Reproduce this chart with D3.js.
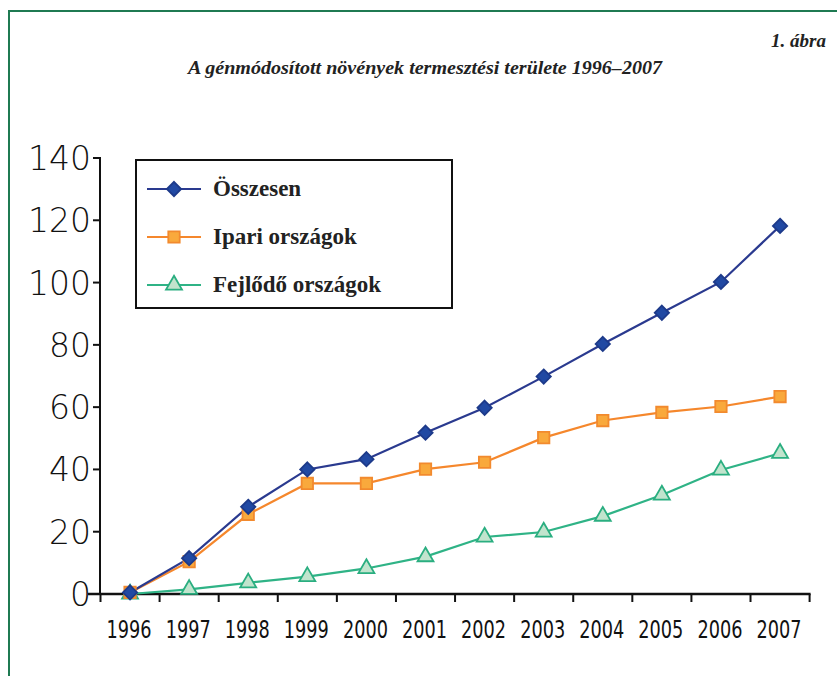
<!DOCTYPE html>
<html><head><meta charset="utf-8">
<script src="https://cdn.jsdelivr.net/npm/d3@7"></script>
<style>body{margin:0;background:#fff}svg{display:block}</style>
</head><body>
<script>
const years = ["1996","1997","1998","1999","2000","2001","2002","2003","2004","2005","2006","2007"];
const osszesen = [0.5, 11.5, 28, 40, 43.3, 51.8, 59.8, 69.8, 80.3, 90.3, 100.2, 118.2];
const ipari = [0.5, 10.4, 25.6, 35.5, 35.5, 40.1, 42.3, 50.2, 55.7, 58.3, 60.2, 63.4];
const fejlodo = [0, 1.5, 3.6, 5.6, 8.2, 12.0, 18.3, 19.9, 25.0, 31.8, 39.8, 45.2];
const yTicks = [0, 20, 40, 60, 80, 100, 120, 140];
const seriesNames = ["Összesen", "Ipari országok", "Fejlődő országok"];
const titleText = "A génmódosított növények termesztési területe 1996–2007";
const figLabel = "1. ábra";

const W = 837, H = 676;
const svg = d3.select("body").append("svg").attr("width", W).attr("height", H);

// frame
svg.append("path").attr("d", `M9,${H} L9,11 L${W},11`).attr("fill","none")
  .attr("stroke","#1f7a52").attr("stroke-width",2);

svg.append("text").attr("x", 826).attr("y", 47).attr("text-anchor","end")
  .attr("font-family","Liberation Serif").attr("font-style","italic").attr("font-weight","bold")
  .attr("font-size",19).attr("fill","#222").text(figLabel);
svg.append("text").attr("x", 425).attr("y", 74).attr("text-anchor","middle")
  .attr("font-family","Liberation Serif").attr("font-style","italic").attr("font-weight","bold")
  .attr("font-size",18).attr("fill","#222")
  .attr("textLength", 474).attr("lengthAdjust","spacingAndGlyphs").text(titleText);

const x = d3.scaleBand().domain(years).range([100.5, 809.6]);
const y = d3.scaleLinear().domain([0, 140]).range([594, 158]);
const cx = d => x(d) + x.bandwidth()/2;

// y axis
const gy = svg.append("g");
gy.append("line").attr("x1",100).attr("x2",100).attr("y1",y(140)-1).attr("y2",y(0)).attr("stroke","#111").attr("stroke-width",2);
gy.selectAll("line.t").data(yTicks).join("line").attr("class","t")
  .attr("x1",93).attr("x2",100).attr("y1",d=>y(d)).attr("y2",d=>y(d)).attr("stroke","#111").attr("stroke-width",2);
gy.selectAll("text").data(yTicks).join("text")
  .attr("x",91).attr("y",d=>y(d)+12).attr("text-anchor","end")
  .attr("font-family","DejaVu Sans").attr("font-weight","200").attr("font-size",33).attr("fill","#111")
  .text(d=>d);

// x axis
const gx = svg.append("g");
gx.append("line").attr("x1",88).attr("x2",x.range()[1]+1).attr("y1",y(0)).attr("y2",y(0)).attr("stroke","#111").attr("stroke-width",2.5);
const bounds = years.map(d=>x(d)).concat([x.range()[1]]);
gx.selectAll("line.t").data(bounds).join("line").attr("class","t")
  .attr("x1",d=>d).attr("x2",d=>d).attr("y1",y(0)).attr("y2",y(0)+8).attr("stroke","#111").attr("stroke-width",2);
gx.selectAll("text").data(years).join("text")
  .attr("x",d=>cx(d)-1).attr("y",638).attr("text-anchor","middle")
  .attr("font-family","DejaVu Sans Condensed, DejaVu Sans").attr("font-stretch","condensed")
  .attr("font-size",24).attr("fill","#111")
  .attr("textLength",45).attr("lengthAdjust","spacingAndGlyphs").text(d=>d);

const series = [
  {name: seriesNames[0], vals: osszesen, line:"#2a3a8f", fill:"#2149a3", stroke:"#1d3a8a", sym: d3.symbolDiamond2, size: 130},
  {name: seriesNames[1], vals: ipari, line:"#f5872c", fill:"#f9a93c", stroke:"#f28a2e", sym: d3.symbolSquare, size: 130},
  {name: seriesNames[2], vals: fejlodo, line:"#2fb386", fill:"#c1e4cd", stroke:"#2aae80", sym: d3.symbolTriangle, size: 110}
];
const lineGen = d3.line().x((d,i)=>cx(years[i])).y(d=>y(d));
[...series].reverse().forEach(s => {
  svg.append("path").attr("d", lineGen(s.vals)).attr("fill","none").attr("stroke",s.line).attr("stroke-width",2.2);
});
[...series].reverse().forEach(s => {
  svg.append("g").selectAll("path").data(s.vals).join("path")
    .attr("transform",(d,i)=>`translate(${cx(years[i])},${y(d)})`)
    .attr("d", d3.symbol().type(s.sym).size(s.size))
    .attr("fill", s.fill).attr("stroke", s.stroke).attr("stroke-width",1.8);
});

// legend
const lg = svg.append("g");
lg.append("rect").attr("x",136).attr("y",160).attr("width",316).attr("height",148)
  .attr("fill","#fff").attr("stroke","#111").attr("stroke-width",2);
series.forEach((s,i) => {
  const yy = 189 + i*48;
  lg.append("line").attr("x1",147).attr("x2",201).attr("y1",yy).attr("y2",yy).attr("stroke",s.line).attr("stroke-width",2.2);
  lg.append("path").attr("transform",`translate(174,${yy})`).attr("d", d3.symbol().type(s.sym).size(s.size))
    .attr("fill", s.fill).attr("stroke", s.stroke).attr("stroke-width",1.8);
  lg.append("text").attr("x",213).attr("y",yy+7).attr("font-family","Liberation Serif").attr("font-weight","bold")
    .attr("font-size",23).attr("fill","#222").text(s.name);
});
</script>
</body></html>
